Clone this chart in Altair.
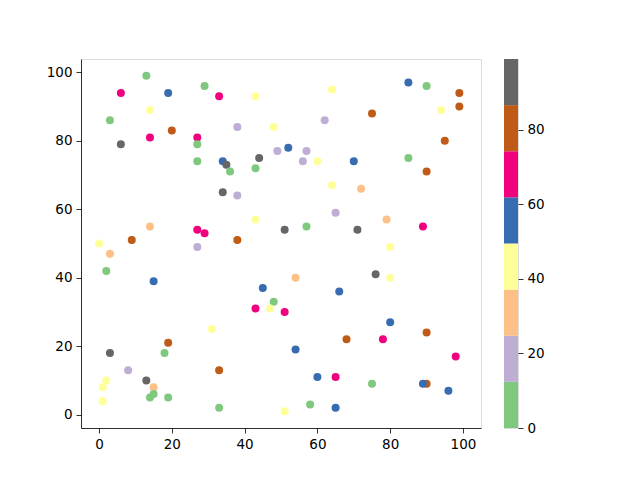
import altair as alt
import pandas as pd

# scatter data
xs = [13, 6, 19, 29, 33, 14, 3, 20, 14, 27, 6, 27, 27, 34, 35, 36, 43, 38, 48, 52,
      49, 57, 56, 60, 44, 43, 62, 64, 64, 70, 85, 90, 99, 99, 94, 75, 95, 85, 90, 72,
      34, 14, 9, 0, 3, 2, 15, 27, 29, 27, 38, 65, 43, 51, 57, 38, 54, 45, 66, 48,
      43, 47, 51, 79, 71, 89, 80, 76, 80, 31, 19, 18, 3, 8, 33, 13, 2, 1, 15, 15,
      14, 19, 1, 33, 68, 54, 60, 65, 51, 58, 65, 80, 90, 78, 98, 75, 90, 89, 96]
ys = [99, 94, 94, 96, 93, 89, 86, 83, 81, 81, 79, 79, 74, 74, 73, 71, 93, 84, 84, 78,
      77, 77, 74, 74, 75, 72, 86, 95, 67, 74, 97, 96, 94, 90, 89, 88, 80, 75, 71, 66,
      65, 55, 51, 50, 47, 42, 39, 54, 53, 49, 64, 59, 57, 54, 55, 51, 40, 37, 36, 33,
      31, 31, 30, 57, 54, 55, 49, 41, 40, 25, 21, 18, 18, 13, 13, 10, 10, 8, 8, 6,
      5, 5, 4, 2, 22, 19, 11, 11, 1, 3, 2, 27, 24, 22, 17, 9, 9, 9, 7]
# colour class of each point
codes = "GPBGPYGRPPKGGBKGYLYBLLLYKGLYYBBGRRYRRGRE" \
        "KERYEGBPPLLLYKGREBBGPYPEKPYKYYRGKLRKYYEG" \
        "GGYGRBBPYGBBRPPGRBB"
code_val = {"G": 6, "L": 18, "E": 31, "Y": 43, "B": 56, "P": 68, "R": 80, "K": 93}
cs = [code_val[c] for c in codes]

palette = ["#7fc97f", "#beaed4", "#fdc086", "#ffff99",
           "#386cb0", "#f0027f", "#bf5b17", "#666666"]
cmax = 99
bin_edges = [cmax * i / 8 for i in range(9)]
cbar_ticks = [0, 20, 40, 60, 80]
x_ticks = [0, 20, 40, 60, 80, 100]
y_ticks = [0, 20, 40, 60, 80, 100]

df = pd.DataFrame({"x": xs, "y": ys, "c": cs, "order": list(range(len(xs)))})
bins = pd.DataFrame({"lo": bin_edges[:-1], "hi": bin_edges[1:], "col": palette})

font = "DejaVu Sans"
axis_common = dict(labelFont=font, labelFontSize=13.5, labelColor="black",
                   tickColor="black", tickSize=5, tickWidth=0.8, labelPadding=4,
                   domainColor="black", domainWidth=0.8, grid=False, title=None)

scatter = alt.Chart(df).mark_circle(size=64, opacity=1).encode(
    x=alt.X("x:Q", scale=alt.Scale(domain=[-4.95, 104.95], nice=False, zero=False),
            axis=alt.Axis(values=x_ticks, **axis_common)),
    y=alt.Y("y:Q", scale=alt.Scale(domain=[-3.9, 103.9], nice=False, zero=False),
            axis=alt.Axis(values=y_ticks, **axis_common)),
    color=alt.Color("c:Q", scale=alt.Scale(type="threshold",
                                           domain=bin_edges[1:-1], range=palette),
                    legend=None),
    order=alt.Order("order:Q"),
).properties(width=400, height=369)

cbar = alt.Chart(bins).mark_rect().encode(
    x=alt.value(0), x2=alt.value(14),
    y=alt.Y("lo:Q", scale=alt.Scale(domain=[0, cmax], nice=False, zero=False),
            axis=alt.Axis(orient="right", values=cbar_ticks, domain=False, **axis_common)),
    y2="hi:Q",
    color=alt.Color("col:N", scale=None),
).properties(width=14, height=369)

chart = alt.hconcat(scatter, cbar, spacing=23, bounds="flush").properties(
    padding={"left": 37, "top": 50, "right": 0, "bottom": 0},
).configure_view(stroke="black", strokeWidth=0.8).configure(background="white")

chart.save("out.html", embed_options={"renderer": "svg", "actions": False})
